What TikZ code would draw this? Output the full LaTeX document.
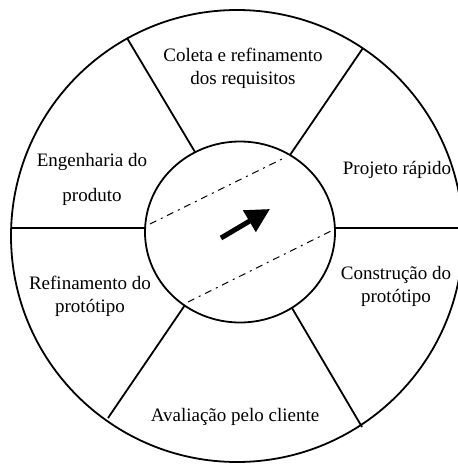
\documentclass[tikz,border=0pt]{standalone}
\usepackage{fontspec}
\setmainfont{Liberation Serif}
\usetikzlibrary{arrows.meta,shapes.geometric}
\begin{document}
\begin{tikzpicture}[x=1pt,y=-1pt,
  ring/.style={line width=1.8pt},
  spoke/.style={line width=1.8pt},
  axis/.style={line width=2.6pt},
  guide/.style={line width=1pt, dash pattern=on 7pt off 5pt on 2pt off 5pt},
  lbl/.style={font=\fontsize{19}{23}\selectfont, align=center, inner sep=0pt}]
\useasboundingbox (0,0) rectangle (458,464);
\fill[white] (0,0) rectangle (458,464);
% outer circle
\node[ring, draw, circle, minimum size=452pt, inner sep=0pt] (outer) at (237,236) {};
% inner ellipse
\node[ring, draw, ellipse, minimum width=190pt, minimum height=181pt, inner sep=0pt] (inner) at (240,232) {};
% horizontal axis
\coordinate (hl1) at (11,228);
\coordinate (hl2) at (145,228);
\coordinate (hr1) at (335,228);
\coordinate (hr2) at (460,228);
\draw[axis] (hl1) -- (hl2);
\draw[axis] (hr1) -- (hr2);
% spokes
\coordinate (s1a) at (195,152); \coordinate (s1b) at (127,38);
\coordinate (s2a) at (290,155); \coordinate (s2b) at (363,48);
\coordinate (s3a) at (185,305); \coordinate (s3b) at (108,418);
\coordinate (s4a) at (292,308); \coordinate (s4b) at (362,427);
\draw[spoke] (s1a) -- (s1b);
\draw[spoke] (s2a) -- (s2b);
\draw[spoke] (s3a) -- (s3b);
\draw[spoke] (s4a) -- (s4b);
% dashed guides
\coordinate (d1a) at (150,224); \coordinate (d1b) at (282,159);
\coordinate (d2a) at (188,302); \coordinate (d2b) at (333,230);
\draw[guide] (d1a) -- (d1b);
\draw[guide] (d2a) -- (d2b);
% arrow
\coordinate (aa) at (221,238); \coordinate (ab) at (270,209);
\draw[line width=5pt, -{Triangle[length=24pt,width=24pt]}] (aa) -- (ab);
% labels
\node[lbl] (coleta) at (243,68) {Coleta e refinamento\\dos requisitos};
\node[lbl] (projeto) at (397,170) {Projeto rápido};
\node[lbl] (engenharia) at (92,179) {Engenharia do\\[12pt]produto};
\node[lbl] (refin) at (90,296) {Refinamento do\\protótipo};
\node[lbl] (construcao) at (396,286) {Construção do\\protótipo};
\node[lbl] (avaliacao) at (235,417) {Avaliação pelo cliente};
\end{tikzpicture}
\end{document}
